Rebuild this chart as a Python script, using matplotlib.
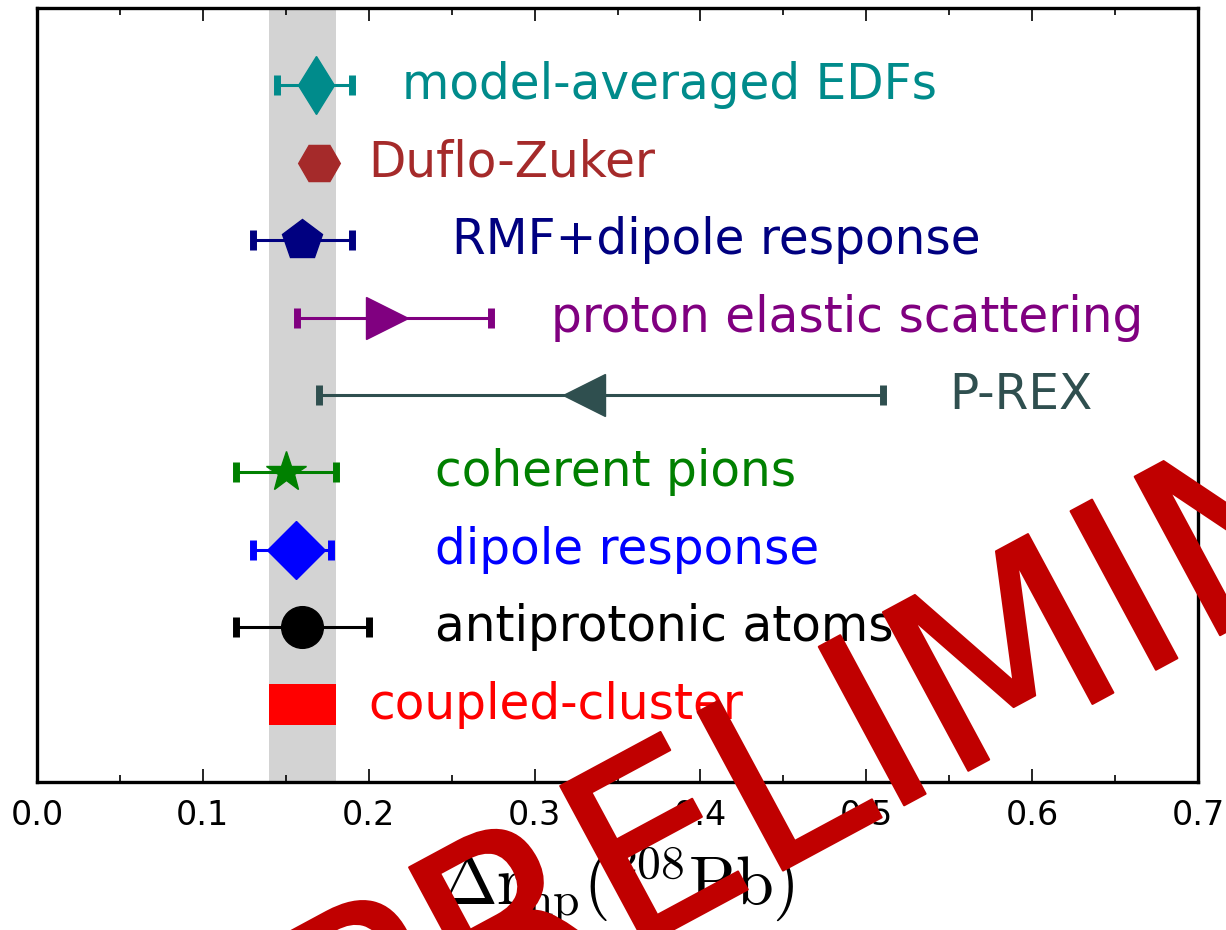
import matplotlib
matplotlib.use("Agg")
import matplotlib.pyplot as plt
from matplotlib.textpath import TextPath
from matplotlib.patches import PathPatch
from matplotlib.font_manager import FontProperties
from matplotlib.transforms import Affine2D, IdentityTransform

# Neutron-skin thickness of 208Pb from different methods (top to bottom)
methods = ["model-averaged EDFs", "Duflo-Zuker", "RMF+dipole response",
           "proton elastic scattering", "P-REX", "coherent pions",
           "dipole response", "antiprotonic atoms"]
values = [0.168, 0.170, 0.160, 0.211, 0.33, 0.15, 0.156, 0.16]
err_low = [0.023, None, 0.030, 0.054, 0.16, 0.03, 0.026, 0.04]
err_high = [0.022, None, 0.030, 0.063, 0.18, 0.03, 0.021, 0.04]

# coupled-cluster prediction (range)
cc_label = "coupled-cluster"
cc_range = [0.14, 0.18]

colors = ["darkcyan", "brown", "navy", "purple", "darkslategray",
          "green", "blue", "black"]
markers = ["d", "H", "p", ">", "<", "*", "D", "o"]
label_x = [0.22, 0.20, 0.25, 0.31, 0.55, 0.24, 0.24, 0.24]
cc_label_x = 0.20

plt.rcParams["mathtext.fontset"] = "cm"

fig = plt.figure(figsize=(12.26, 9.30), dpi=100)
ax = fig.add_axes([37 / 1226, 148 / 930, 1161 / 1226, 774 / 930])

ax.axvspan(cc_range[0], cc_range[1], color="lightgray", lw=0, zorder=0)

n = len(methods)
for i, (name, v, lo, hi, c, m, lx) in enumerate(
        zip(methods, values, err_low, err_high, colors, markers, label_x)):
    y = n + 1 - i
    if lo is None:
        ax.plot([v], [y], marker=m, color=c, ms=30, mec=c, ls="none", zorder=3)
    else:
        ax.errorbar([v], [y], xerr=[[lo], [hi]], fmt=m, color=c, ms=30,
                    mec=c, elinewidth=2.2, capsize=7.5, capthick=5, zorder=3)
    ax.text(lx, y, name, color=c, fontsize=35, va="center", ha="left")

ax.barh(1, cc_range[1] - cc_range[0], left=cc_range[0], height=0.52,
        color="red", lw=0, zorder=3)
ax.text(cc_label_x, 1, cc_label, color="red", fontsize=35, va="center", ha="left")

ax.set_xlim(0, 0.7)
ax.set_ylim(0, 10)
ax.set_xticks([0.0, 0.1, 0.2, 0.3, 0.4, 0.5, 0.6, 0.7])
ax.set_xticks([0.05, 0.15, 0.25, 0.35, 0.45, 0.55, 0.65], minor=True)
ax.set_yticks([])
ax.tick_params(axis="x", which="both", direction="in", top=True, bottom=True,
               labelsize=24, pad=12)
ax.tick_params(axis="x", which="major", length=9.5, width=1.2)
ax.tick_params(axis="x", which="minor", length=5, width=1.2)
for s in ax.spines.values():
    s.set_linewidth(2.4)

ax.set_xlabel(r"$\Delta \mathrm{r}_{\mathrm{np}}(^{208}\mathrm{Pb})$",
              fontsize=49, labelpad=9)

# draft watermark across the lower right
wm = TextPath((0, 0), "PRELIMINARY", size=247,
              prop=FontProperties(family="DejaVu Sans"))
wm_tr = Affine2D().rotate_deg(28.3).translate(342, -178)
fig.add_artist(PathPatch(wm_tr.transform_path(wm), facecolor="#c00000",
                         edgecolor="#c00000", linewidth=1.5, joinstyle="round",
                         transform=IdentityTransform(), zorder=10))

fig.savefig("out.png", dpi=100)
